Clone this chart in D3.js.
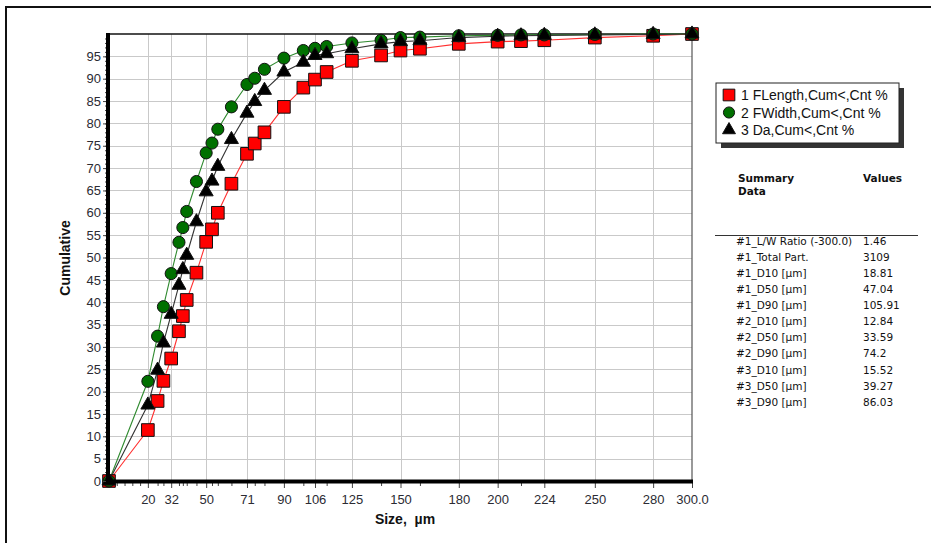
<!DOCTYPE html>
<html>
<head>
<meta charset="utf-8">
<script src="https://cdn.jsdelivr.net/npm/d3@7"></script>
<style>
    body { margin: 0; background: #fff; }
    .tick-label { font-family: "Liberation Sans", Arial, sans-serif; font-size: 13px; fill: #2b2b33; }
    .axis-title { font-family: "Liberation Sans", Arial, sans-serif; font-size: 14px; font-weight: bold; fill: #111; }
    .legend-text { font-family: "Liberation Sans", Arial, sans-serif; font-size: 14px; fill: #111; }
    .summary { font-family: "DejaVu Sans", Tahoma, sans-serif; font-size: 10.5px; fill: #111; }
    .summary-head { font-family: "DejaVu Sans", Tahoma, sans-serif; font-size: 10.5px; font-weight: bold; fill: #111; }
</style>
</head>
<body>
<div id="chart"></div>
<script>
// size classes (um)
const sizes = [0, 20, 25, 28, 32, 36, 38, 40, 45, 50, 53, 56, 63, 71, 75, 80, 90, 100, 106, 112, 125, 140, 150, 160, 180, 200, 212, 224, 250, 280, 300];

const fLength = [0, 11.4, 17.9, 22.4, 27.4, 33.5, 36.9, 40.5, 46.6, 53.5, 56.3, 60.0, 66.5, 73.2, 75.5, 78.0, 83.7, 88.0, 89.8, 91.5, 94.0, 95.2, 96.3, 96.7, 97.8, 98.3, 98.4, 98.6, 99.2, 99.6, 100];
const fWidth = [0, 22.3, 32.4, 39.0, 46.4, 53.4, 56.7, 60.3, 67.0, 73.4, 75.6, 78.7, 83.7, 88.7, 90.1, 92.1, 94.6, 96.3, 96.8, 97.2, 98.0, 98.6, 99.2, 99.3, 99.6, 99.7, 99.8, 99.8, 99.9, 100, 100];
const da = [0, 17.0, 24.8, 30.9, 37.3, 43.8, 47.3, 50.5, 58.0, 64.7, 67.1, 70.4, 76.4, 82.3, 84.9, 87.4, 91.5, 93.7, 95.2, 95.6, 96.7, 97.8, 98.3, 98.5, 99.2, 99.5, 99.6, 99.7, 99.8, 99.9, 100];

const xTicks = [20, 32, 50, 71, 90, 106, 125, 150, 180, 200, 224, 250, 280, 300];
const xMinorTicks = [4, 8, 12, 16, 25, 28, 36, 38, 40, 45, 53, 56, 63, 75, 80, 100, 112, 140, 160, 212];
const yTicks = d3.range(0, 100, 5);

const seriesNames = ['1 FLength,Cum<,Cnt %', '2 FWidth,Cum<,Cnt %', '3 Da,Cum<,Cnt %'];

const summaryLabels = ['#1_L/W Ratio (-300.0)', '#1_Total Part.', '#1_D10 [µm]', '#1_D50 [µm]', '#1_D90 [µm]',
    '#2_D10 [µm]', '#2_D50 [µm]', '#2_D90 [µm]', '#3_D10 [µm]', '#3_D50 [µm]', '#3_D90 [µm]'];
const summaryValues = ['1.46', '3109', '18.81', '47.04', '105.91', '12.84', '33.59', '74.2', '15.52', '39.27', '86.03'];

class CumulativeChart {
    constructor() {
        this.width = 931;
        this.height = 543;
        this.left = 109;
        this.right = 692;
        this.top = 34;
        this.bottom = 481;

        this.series = [
            { values: fLength, line: '#ff3030', fill: '#ff0000', shape: d3.symbolSquare, size: 160 },
            { values: fWidth, line: '#2f8a2f', fill: '#007000', shape: d3.symbolCircle, size: 115 },
            { values: da, line: '#333333', fill: '#000000', shape: d3.symbolTriangle, size: 85 }
        ];

        this.svg = d3.select('#chart').append('svg')
            .attr('width', this.width)
            .attr('height', this.height);

        this.xScale = d3.scaleLinear().domain([0, 300]).range([this.left, this.right]);
        this.yScale = d3.scaleLinear().domain([0, 100]).range([this.bottom, this.top]);

        this.plotFrame();
        this.plotGrid();
        this.plotSeries();
        this.plotAxis();
        this.plotLegend();
        this.plotSummary();
    };

    plotFrame = () => {
        // outer border (top and left only visible)
        this.svg.append('line').attr('x1', 6).attr('x2', this.width).attr('y1', 7).attr('y2', 7)
            .attr('stroke', '#111').attr('stroke-width', 2);
        this.svg.append('line').attr('x1', 6).attr('x2', 6).attr('y1', 6).attr('y2', this.height)
            .attr('stroke', '#111').attr('stroke-width', 2);
    };

    plotGrid = () => {
        const g = this.svg.append('g').attr('stroke', '#c9c9c9').attr('stroke-width', 1);
        g.selectAll('.vgrid').data(xTicks.slice(0, -1)).enter().append('line')
            .attr('x1', d => Math.round(this.xScale(d)) + 0.5)
            .attr('x2', d => Math.round(this.xScale(d)) + 0.5)
            .attr('y1', this.top).attr('y2', this.bottom);
        g.selectAll('.hgrid').data(yTicks.slice(1)).enter().append('line')
            .attr('x1', this.left).attr('x2', this.right)
            .attr('y1', d => Math.round(this.yScale(d)) + 0.5)
            .attr('y2', d => Math.round(this.yScale(d)) + 0.5);

        this.svg.append('line').attr('x1', this.left).attr('x2', this.right)
            .attr('y1', this.top).attr('y2', this.top).attr('stroke', '#111').attr('stroke-width', 1.5);
        this.svg.append('line').attr('x1', this.right).attr('x2', this.right)
            .attr('y1', this.top).attr('y2', this.bottom).attr('stroke', '#555').attr('stroke-width', 1.2);
    };

    plotSeries = () => {
        const line = d3.line().x((d, i) => this.xScale(sizes[i])).y(d => this.yScale(d));
        this.series.forEach(s => {
            this.svg.append('path').datum(s.values)
                .attr('d', line)
                .attr('fill', 'none')
                .attr('stroke', s.line)
                .attr('stroke-width', 1.1);
        });
        this.series.forEach(s => {
            const sym = d3.symbol().type(s.shape).size(s.size);
            this.svg.append('g').selectAll('path').data(s.values).enter().append('path')
                .attr('d', sym)
                .attr('transform', (d, i) => 'translate(' + this.xScale(sizes[i]) + ',' + this.yScale(d) + ')')
                .attr('fill', s.fill)
                .attr('stroke', '#111')
                .attr('stroke-width', 1);
        });
    };

    plotAxis = () => {
        const xAxis = d3.axisBottom(this.xScale).tickValues(xTicks).tickSize(5).tickPadding(7)
            .tickFormat(d => d === 300 ? '300.0' : d);
        const xMinor = d3.axisBottom(this.xScale).tickValues(xMinorTicks).tickSize(3).tickFormat('');
        const yAxis = d3.axisLeft(this.yScale).tickValues(yTicks).tickSize(4).tickPadding(2);
        const yMinor = d3.axisLeft(this.yScale).tickValues(d3.range(0, 100, 1)).tickSize(2).tickFormat('');

        const gx = this.svg.append('g').attr('transform', 'translate(0,' + (this.bottom + 2) + ')').call(xAxis);
        this.svg.append('g').attr('transform', 'translate(0,' + (this.bottom + 2) + ')').call(xMinor)
            .call(g => g.select('.domain').remove());
        const gy = this.svg.append('g').attr('transform', 'translate(' + (this.left - 2) + ',0)').call(yAxis);
        this.svg.append('g').attr('transform', 'translate(' + (this.left - 2) + ',0)').call(yMinor)
            .call(g => g.select('.domain').remove());

        [gx, gy].forEach(g => {
            g.select('.domain').remove();
            g.selectAll('text').attr('class', 'tick-label').attr('font-family', null).attr('font-size', null).attr('fill', null);
        });
        this.svg.selectAll('.tick line').attr('stroke', '#444');

        // heavy axis lines
        this.svg.append('line').attr('x1', this.left - 2).attr('x2', this.right + 1)
            .attr('y1', this.bottom + 0.5).attr('y2', this.bottom + 0.5).attr('stroke', '#000').attr('stroke-width', 4);
        this.svg.append('line').attr('x1', this.left - 1).attr('x2', this.left - 1)
            .attr('y1', this.top - 1).attr('y2', this.bottom + 2.5).attr('stroke', '#000').attr('stroke-width', 4);

        this.svg.append('text').attr('class', 'axis-title')
            .attr('x', 405).attr('y', 524).attr('text-anchor', 'middle')
            .text('Size,\u00a0 µm');
        this.svg.append('text').attr('class', 'axis-title')
            .attr('transform', 'translate(70,258) rotate(-90)').attr('text-anchor', 'middle')
            .text('Cumulative');
    };

    plotLegend = () => {
        const lx = 716, ly = 83, lw = 183, lh = 60;
        this.svg.append('rect').attr('x', lx + 5).attr('y', ly + 5).attr('width', lw).attr('height', lh)
            .attr('fill', '#333');
        this.svg.append('rect').attr('x', lx).attr('y', ly).attr('width', lw).attr('height', lh)
            .attr('fill', '#fff').attr('stroke', '#222').attr('stroke-width', 1);

        const rows = this.svg.append('g').selectAll('g').data(this.series).enter().append('g')
            .attr('transform', (d, i) => 'translate(' + (lx + 13) + ',' + (ly + 12 + i * 17.5) + ')');
        rows.append('path')
            .attr('d', d => d3.symbol().type(d.shape).size(d.size * 0.85)())
            .attr('fill', d => d.fill).attr('stroke', '#111');
        rows.append('text').attr('class', 'legend-text')
            .attr('x', 12).attr('y', 5)
            .text((d, i) => seriesNames[i]);
    };

    plotSummary = () => {
        this.svg.append('text').attr('class', 'summary-head').attr('x', 738).attr('y', 182).text('Summary');
        this.svg.append('text').attr('class', 'summary-head').attr('x', 738).attr('y', 195).text('Data');
        this.svg.append('text').attr('class', 'summary-head').attr('x', 863).attr('y', 182).text('Values');
        this.svg.append('line').attr('x1', 715).attr('x2', 918).attr('y1', 235.5).attr('y2', 235.5)
            .attr('stroke', '#333').attr('stroke-width', 1);

        const rows = this.svg.append('g').selectAll('g').data(summaryLabels).enter().append('g')
            .attr('transform', (d, i) => 'translate(0,' + (245 + i * 16.07) + ')');
        rows.append('text').attr('class', 'summary').attr('x', 736).text(d => d);
        rows.append('text').attr('class', 'summary').attr('x', 863).text((d, i) => summaryValues[i]);
    };
};

new CumulativeChart();
</script>
</body>
</html>
